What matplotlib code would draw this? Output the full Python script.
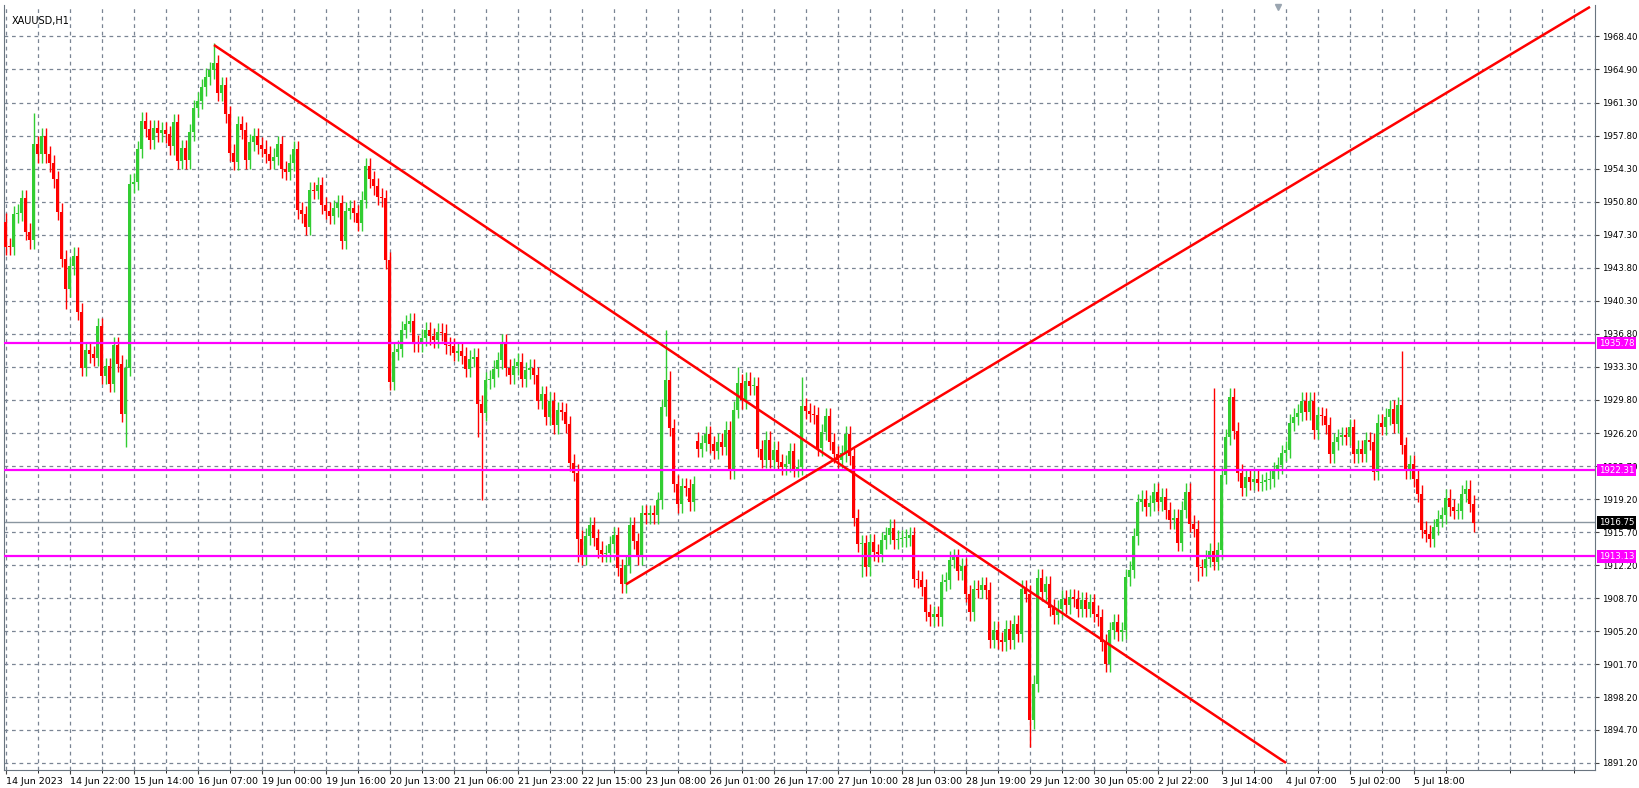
import matplotlib
matplotlib.use("Agg")
import matplotlib.pyplot as plt
import numpy as np

closes = [
1946.02,1946.0,1949.49,1949.63,1951.15,1947.61,1946.72,1956.93,1955.86,1957.78,
1955.86,1954.87,1953.21,1949.73,1944.74,1941.55,1943.96,1945.09,1939.11,1933.16,
1935.03,1934.61,1934.22,1937.58,1932.31,1933.33,1931.49,1935.56,1933.62,1928.30,
1933.19,1952.67,1952.92,1956.39,1959.40,1958.55,1957.35,1958.59,1958.06,1958.41,
1957.99,1956.71,1959.26,1955.15,1956.47,1955.22,1958.20,1960.72,1961.53,1962.95,
1964.08,1964.79,1965.50,1962.38,1963.16,1960.08,1956.00,1955.05,1959.05,1958.41,
1955.22,1957.14,1957.78,1956.82,1956.43,1955.86,1955.15,1955.58,1956.93,1954.23,
1953.99,1954.94,1956.36,1949.91,1949.49,1948.14,1952.04,1951.97,1952.57,1950.44,
1949.84,1949.34,1950.12,1950.62,1946.65,1949.84,1950.09,1949.59,1948.57,1951.04,
1954.59,1953.17,1952.46,1951.33,1951.15,1944.60,1931.67,1934.86,1935.21,1937.23,
1937.87,1938.12,1935.74,1935.70,1936.38,1937.16,1936.52,1936.17,1936.98,1936.88,
1935.56,1935.46,1934.75,1934.96,1934.47,1933.08,1934.15,1934.33,1929.37,
1928.37,1931.84,1932.02,1933.08,1933.97,1935.81,1933.19,1932.37,1933.33,1933.79,
1931.98,1932.91,1933.19,1932.37,1929.65,1930.36,1927.95,1929.65,1927.06,1928.66,
1928.48,1927.17,1923.06,1922.0,1915.0,1913.07,1915.27,1916.43,1915.12,1913.85,
1913.42,1913.49,1914.41,1915.37,1911.94,1910.17,1912.25,1916.43,1914.77,1913.14,
1917.74,1917.50,1917.74,1917.50,1919.09,1929.0,1931.91,1926.81,1920.86,1918.67,
1920.58,1920.44,1918.91,1920.79,1924.58,1925.18,1926.1,1925.04,1924.33,1925.29,
1924.76,1926.6,1922.28,1928.73,1931.56,1929.72,1931.77,1931.21,1931.25,1924.58,
1923.41,1925.54,1923.41,1924.47,1923.16,1922.63,1922.99,1924.33,1922.46,1922.63,
1929.08,1928.58,1928.3,1928.12,1924.69,1926.35,1928.02,1925.29,1923.98,1923.41,
1924.1,1926.1,1923.77,1917.25,1914.49,1914.55,1912.0,1914.66,1913.6,1913.42,
1914.84,1915.37,1916.19,1914.84,1915.02,1915.05,1915.1,1915.37,1910.77,1910.66,
1909.88,1907.22,1906.69,1906.97,1906.69,
1910.41,1910.59,1912.79,1913.07,1911.55,1912.08,1909.17,1907.22,1909.70,1909.60,
1910.06,1909.53,1904.28,1905.35,1904.21,1904.04,1905.45,1904.21,1905.98,1904.92,
1909.70,1909.17,1895.71,1899.61,1910.87,1909.35,1910.16,1907.68,1906.87,1907.58,
1908.64,1907.93,1908.82,1908.64,1907.58,1908.46,1907.58,1908.29,1907.05,1906.69,
1904.04,1901.73,1905.28,1906.16,1905.10,1905.28,1910.94,1911.72,1915.27,1918.91,
1919.27,1918.38,1918.81,1919.98,1918.91,1919.45,1918.03,1916.97,1917.25,1914.56,
1918.10,1919.98,1916.61,1916.08,1912.01,1911.94,1912.89,1913.71,1912.54,1913.78,
1921.75,1925.82,1930.07,1926.46,1922.00,1920.44,1921.57,1921.04,1921.39,1920.93,
1921.04,1921.22,1921.39,1922.28,1922.81,1924.12,1924.48,1927.31,1927.95,1928.37,
1929.65,1928.48,1929.65,1926.53,1928.12,1928.02,1927.06,1923.98,1925.29,1925.82,
1926.00,1925.82,1926.88,1923.98,1924.58,1924.05,1925.47,1925.29,1922.10,1927.31,
1926.88,1927.95,1928.83,1927.17,1929.19,1924.94,1922.28,1922.99,1921.39,1919.80,
1915.97,1915.55,1915.02,1916.26,1917.14,1917.50,1919.37,1918.38,1917.96,1917.96,
1919.80,1920.33,1918.74,1916.68,
]
first_open = 1948.67
gap_opens = {173: 1925.40}
spike_high = {52: 1967.7, 165: 1937.23, 349: 1934.96, 7: 1960.2, 31: 1953.8, 183: 1933.2, 199: 1932.2, 302: 1931.0}
spike_low = {15: 1939.46, 30: 1924.76, 118: 1925.8, 119: 1919.09, 143: 1912.54, 256: 1892.88, 154: 1909.8, 214: 1911.0, 275: 1901.3, 298: 1910.5}
default_wick = 0.9

x_labels = ["14 Jun 2023","14 Jun 22:00","15 Jun 14:00","16 Jun 07:00","19 Jun 00:00",
            "19 Jun 16:00","20 Jun 13:00","21 Jun 06:00","21 Jun 23:00","22 Jun 15:00",
            "23 Jun 08:00","26 Jun 01:00","26 Jun 17:00","27 Jun 10:00","28 Jun 03:00",
            "28 Jun 19:00","29 Jun 12:00","30 Jun 05:00","2 Jul 22:00","3 Jul 14:00",
            "4 Jul 07:00","5 Jul 02:00","5 Jul 18:00"]
y_ticks = [1891.20,1894.70,1898.20,1901.70,1905.20,1908.70,1912.20,1915.70,1919.20,1922.70,
           1926.20,1929.80,1933.30,1936.80,1940.30,1943.80,1947.30,1950.80,1954.30,1957.80,
           1961.30,1964.90,1968.40]
levels = [1935.78, 1922.31, 1913.13]
last_price = 1916.75
trend_down = ([52, 320], [1967.45, 1891.2])
trend_up = ([155, 396], [1910.17, 1971.5])

n = len(closes)
opens = [first_open] + closes[:-1]
for k, v in gap_opens.items():
    opens[k] = v
opens = np.array(opens); c = np.array(closes)
hi = np.maximum(opens, c) + default_wick
lo = np.minimum(opens, c) - default_wick
for k, v in spike_high.items(): hi[k] = max(hi[k], v)
for k, v in spike_low.items(): lo[k] = min(lo[k], v)

fig = plt.figure(figsize=(16.4, 7.88), dpi=100)
ax = fig.add_axes([4/1640, 18/788, 1591/1640, 765/788])
ax.set_xlim(-0.5, 397.25)
ax.set_ylim(1890.45, 1971.7)
xs = np.arange(n)
up = c >= opens
col = np.where(up, '#32cd32', '#ff0000')
ax.vlines(xs, lo, hi, colors=col, linewidth=1, zorder=3)
h = np.abs(c - opens); h = np.maximum(h, 0.12)
ax.bar(xs, h, bottom=np.minimum(opens, c), width=0.75, color=col, linewidth=0, zorder=4)

for gx in np.arange(0, 400, 8):
    ax.axvline(gx, color='#7a8594', lw=0.9, ls=(0, (3, 3)), zorder=1)
for gy in y_ticks:
    ax.axhline(gy, color='#7a8594', lw=0.9, ls=(0, (3, 3)), zorder=1)
for lv in levels:
    ax.axhline(lv, color='#ff00ff', lw=1.6, zorder=5)
ax.axhline(last_price, color='#8a96a0', lw=1, zorder=2)
ax.plot(*trend_down, color='#ff0000', lw=1.8, zorder=6, solid_capstyle='butt')
ax.plot(*trend_up, color='#ff0000', lw=1.8, zorder=6, solid_capstyle='butt')

ax.yaxis.tick_right()
ax.set_yticks(y_ticks)
ax.set_yticklabels([f"{v:.2f}" for v in y_ticks], fontsize=6.2)
ax.set_xticks(np.arange(0, 16*len(x_labels), 16))
ax.set_xticklabels(x_labels, fontsize=6.8, ha='left')
ax.set_xticks(np.arange(8, 400, 16), minor=True)
ax.tick_params(axis='x', length=3, pad=2, color='#444')
ax.tick_params(axis='x', which='minor', length=2)
ax.tick_params(axis='y', length=3, pad=2, color='#444')
ax.spines['top'].set_visible(False)
for s in ['left', 'right', 'bottom']:
    ax.spines[s].set_color('#6a7580')

trans = ax.get_yaxis_transform()
for lv in levels:
    ax.text(1.0025, lv, f"{lv:.2f}", transform=trans, fontsize=6.2, color='white', va='center', ha='left',
            bbox=dict(boxstyle='square,pad=0.2', fc='#ff00ff', ec='none'), clip_on=False, zorder=10)
ax.text(1.0025, last_price, f"{last_price:.2f}", transform=trans, fontsize=6.2, color='white', va='center', ha='left',
        bbox=dict(boxstyle='square,pad=0.2', fc='black', ec='none'), clip_on=False, zorder=10)
ax.text(0.005, 0.985, "XAUUSD,H1", transform=ax.transAxes, fontsize=7, va='top', ha='left')
ax.plot([318], [1971.45], marker='v', color='#9aa5b0', ms=5, clip_on=False, zorder=7)

fig.savefig("out.png", dpi=100, facecolor='white')
